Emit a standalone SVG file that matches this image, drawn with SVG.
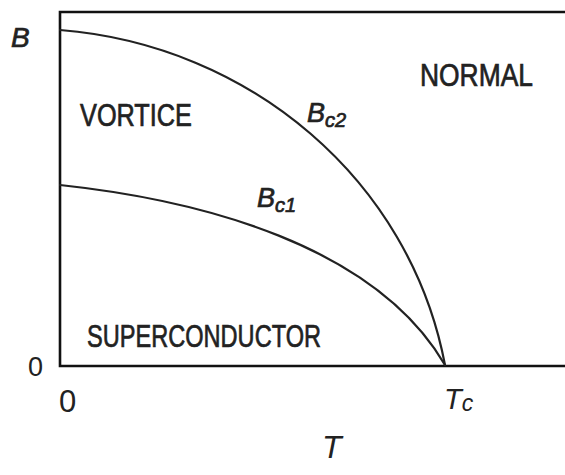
<svg xmlns="http://www.w3.org/2000/svg" width="565" height="475" viewBox="0 0 565 475">
<style>
.ax{stroke:#111;stroke-width:2.6;fill:none}
.cv{stroke:#222;stroke-width:2.2;fill:none;stroke-linecap:round}
.lbl{font-family:"Liberation Sans",Arial,sans-serif;font-size:32px;fill:#222;stroke:#222;stroke-width:0.7}
.it{font-family:"Liberation Sans",Arial,sans-serif;font-style:italic;fill:#222;stroke:#222;stroke-width:0.7}
.itl{font-family:"Liberation Sans",Arial,sans-serif;font-style:italic;fill:#222}
.num{font-family:"Liberation Sans",Arial,sans-serif;fill:#222}
</style>
<rect width="565" height="475" fill="#ffffff"/>
<g id="axes">
<polyline class="ax" points="565,12 60,12 60,366 565,366"/>
</g>
<g id="curves">
<path id="Bc2-curve" class="cv" d="M60,30 C250,45 410,180 445,365"/>
<path id="Bc1-curve" class="cv" d="M60,185 C200,200 375,245 445,365"/>
</g>
<g id="regions">
<text class="lbl" x="420" y="86" textLength="113" lengthAdjust="spacingAndGlyphs">NORMAL</text>
<text class="lbl" x="80" y="126" textLength="112" lengthAdjust="spacingAndGlyphs">VORTICE</text>
<text class="lbl" x="87" y="347" textLength="234" lengthAdjust="spacingAndGlyphs">SUPERCONDUCTOR</text>
</g>
<g id="curve-labels">
<text class="it" x="307" y="122" font-size="27">B<tspan font-size="20" dy="5">c2</tspan></text>
<text class="it" x="257" y="207" font-size="27">B<tspan font-size="20" dy="5">c1</tspan></text>
</g>
<g id="axis-labels">
<text class="it" x="11" y="47" font-size="28">B</text>
<text class="num" x="28" y="376" font-size="27">0</text>
<text class="num" x="59" y="412" font-size="31">0</text>
<text class="itl" x="444" y="409" font-size="29">T<tspan font-size="23" dy="2">c</tspan></text>
<text class="itl" x="322" y="458" font-size="32">T</text>
</g>
</svg>
